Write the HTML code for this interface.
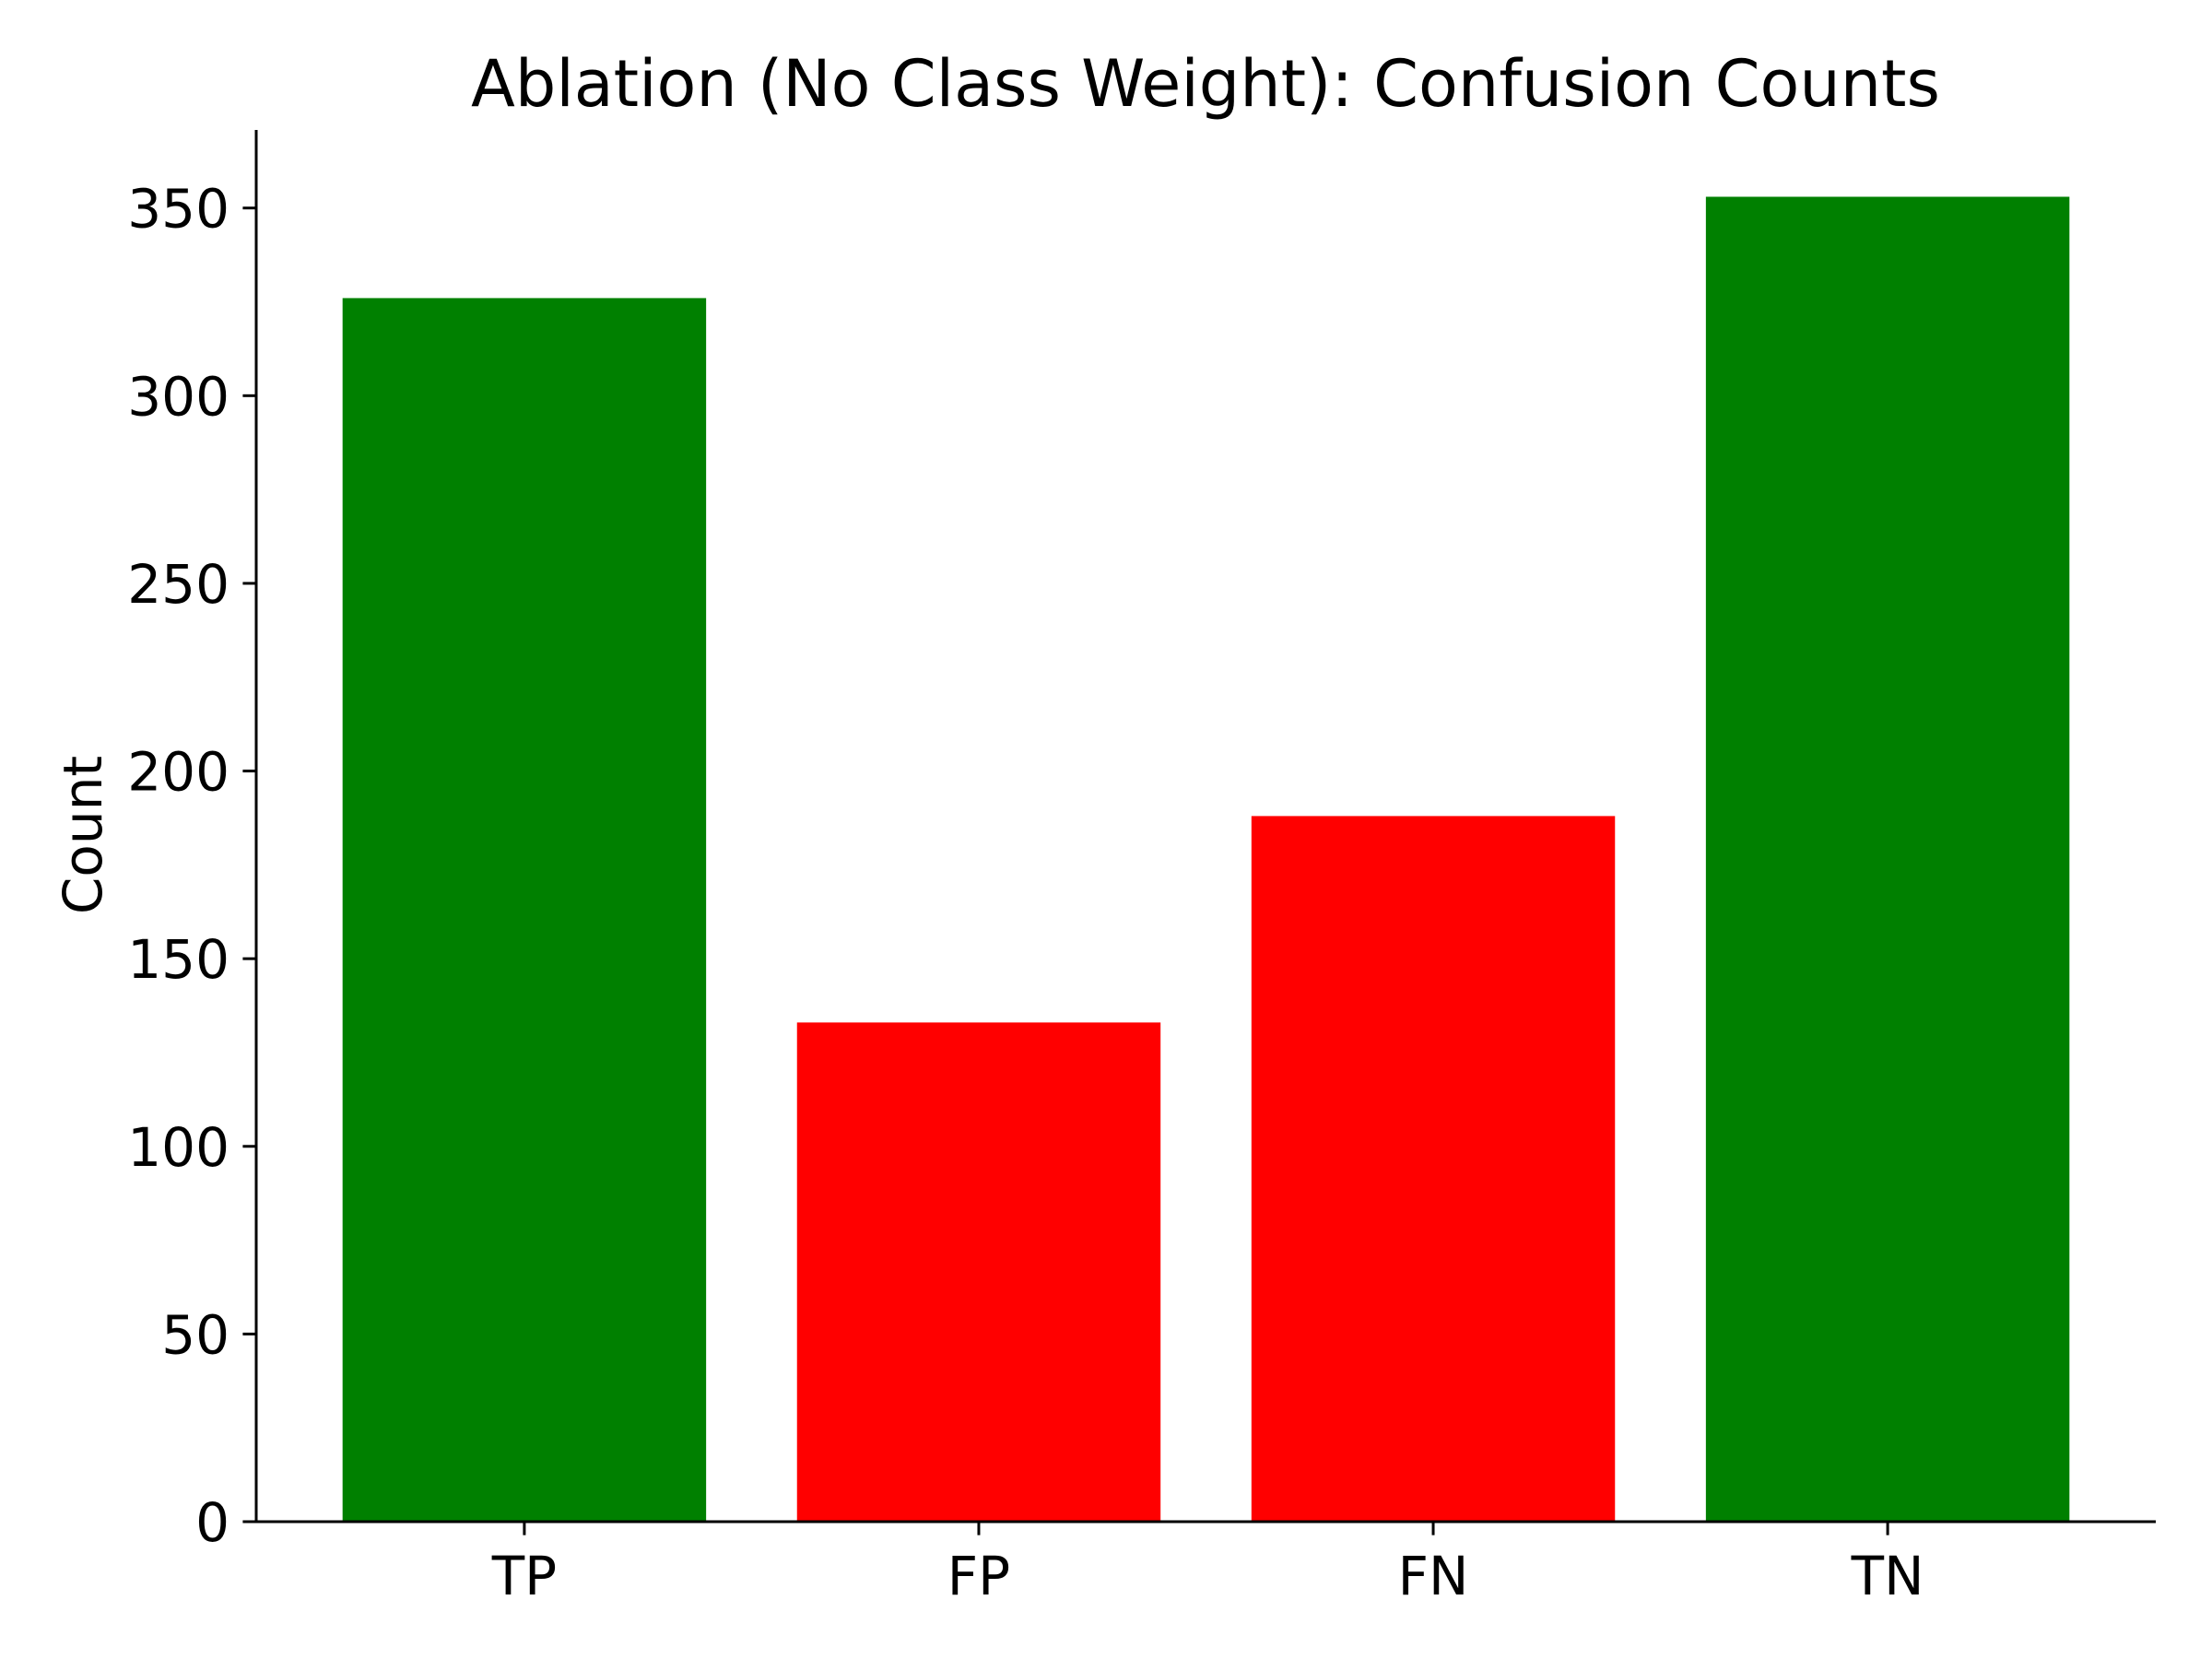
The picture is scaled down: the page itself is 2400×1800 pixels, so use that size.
<!DOCTYPE html>
<html><head><meta charset="utf-8"><style>
html,body{margin:0;padding:0;background:#fff;}
svg{display:block;font-family:"DejaVu Sans","Liberation Sans",sans-serif;}
</style></head><body>
<svg id="chart" width="2400" height="1800" viewBox="0 0 2400 1800" xmlns="http://www.w3.org/2000/svg">
<rect width="2400" height="1800" fill="#fff"/>
<text x="1308" y="115" font-size="70" text-anchor="middle">Ablation (No Class Weight): Confusion Counts</text>
<text transform="translate(110,906) rotate(-90)" font-size="58" text-anchor="middle">Count</text>
<g id="bars"></g>
<g id="yticks"></g>
<g id="xticks"></g>
<line x1="278" y1="141" x2="278" y2="1652" stroke="#000" stroke-width="3"/>
<line x1="276.5" y1="1651" x2="2339" y2="1651" stroke="#000" stroke-width="3"/>
</svg>
<script>
const categories = ["TP","FP","FN","TN"];
const counts = [326,133,188,353];
const barColors = ["#008000","#ff0000","#ff0000","#008000"];
const yTicks = [0,50,100,150,200,250,300,350];

const NS="http://www.w3.org/2000/svg";
const x0=278,x1=2339,yb=1651;
function ys(v){return yb - v*(1651-225.7)/350;}
const xMin=-0.59,xMax=categories.length-1+0.59;
function xs(v){return x0+(v-xMin)/(xMax-xMin)*(x1-x0);}
function mk(tag,attrs){const e=document.createElementNS(NS,tag);for(const k in attrs)e.setAttribute(k,attrs[k]);return e;}

const bars=document.getElementById('bars');
counts.forEach((c,i)=>{
  const r=mk('rect',{x:xs(i-0.4),y:ys(c),width:xs(i+0.4)-xs(i-0.4),height:ys(0)-ys(c),fill:barColors[i]});
  
  
  bars.appendChild(r);
});
const yg=document.getElementById('yticks');
yTicks.forEach(t=>{
  const l=mk('line',{x1:x0-14.6,x2:x0,y1:ys(t),y2:ys(t),stroke:'#000','stroke-width':3});
  
  
  yg.appendChild(l);
  const tx=mk('text',{x:x0-29,y:ys(t)+21,'font-size':58,'text-anchor':'end'});
  tx.textContent=t;
  
  
  yg.appendChild(tx);
});
const xg=document.getElementById('xticks');
categories.forEach((c,i)=>{
  const l=mk('line',{x1:xs(i),x2:xs(i),y1:yb,y2:yb+14.6,stroke:'#000','stroke-width':3});
  
  
  xg.appendChild(l);
  const tx=mk('text',{x:xs(i),y:1730,'font-size':58,'text-anchor':'middle'});
  tx.textContent=c;
  
  
  xg.appendChild(tx);
});
</script>
</body></html>
